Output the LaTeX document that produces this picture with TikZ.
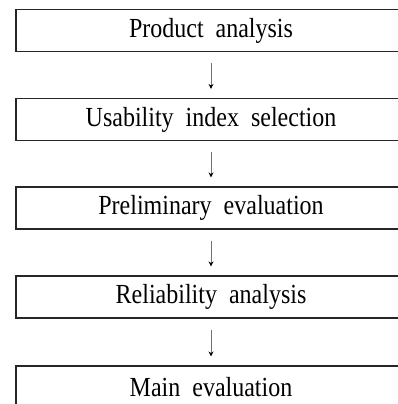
\documentclass[tikz,border=0pt]{standalone}
\usepackage{fontspec}
\usepackage{graphicx}
\setmainfont{Liberation Serif}
\usetikzlibrary{arrows.meta}
\newcommand{\stagetext}[1]{\scalebox{1}[1.15]{\fontsize{24}{28}\selectfont\spaceskip=12pt plus 0pt minus 0pt\relax #1}}
\begin{document}
\begin{tikzpicture}[x=1pt,y=1pt,
  stagebox/.style={draw=black!85,line width=1.1pt,minimum width=390pt,minimum height=42pt,inner sep=0pt},
  flowarrow/.style={draw=black!55,line width=1pt,-{Stealth[length=5pt,width=5pt,black]},shorten <=11pt,shorten >=9pt}]
\useasboundingbox (0,0) rectangle (398,-404);
\node[stagebox] (b1) at (211,-30.5) {\stagetext{Product analysis}};
\node[stagebox] (b2) at (211,-119.5) {\stagetext{Usability index selection}};
\node[stagebox] (b3) at (211,-208) {\stagetext{Preliminary evaluation}};
\node[stagebox] (b4) at (211,-297) {\stagetext{Reliability analysis}};
\node[stagebox] (b5) at (211,-387) {\stagetext{Main evaluation}};
\draw[flowarrow] (b1) -- (b2);
\draw[flowarrow] (b2) -- (b3);
\draw[flowarrow] (b3) -- (b4);
\draw[flowarrow] (b4) -- (b5);
\end{tikzpicture}
\end{document}
